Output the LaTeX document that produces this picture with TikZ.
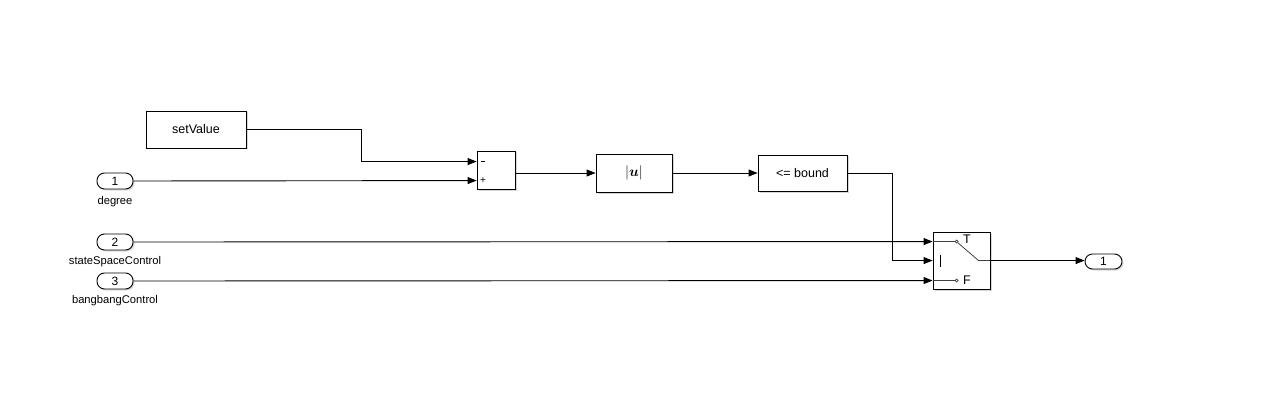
\documentclass[tikz,border=0pt]{standalone}
\usepackage{fontspec}
\setmainfont{Liberation Sans}
\usepackage{amsmath,bm}
\usetikzlibrary{arrows.meta,shadows,calc}
\begin{document}
\begin{tikzpicture}[x=1pt,y=-1pt,
  every node/.style={font=\fontsize{11.2}{13}\selectfont},
  blk/.style={draw,line width=0.9pt,fill=white,inner sep=0pt,
    drop shadow={opacity=0.3,shadow xshift=1.5pt,shadow yshift=-1.5pt}},
  btxt/.style={font=\fontsize{12.5}{14}\selectfont},
  port/.style={blk,font=\fontsize{12}{13}\selectfont,rounded corners=7.5pt,minimum width=36pt,minimum height=16pt},
  wire/.style={line width=0.9pt},
  arr/.style={wire,-{Triangle[length=9pt,width=7pt]}},
  lbl/.style={inner sep=0pt}]
\fill[white] (0,0) rectangle (1281,414);
\useasboundingbox (0,0) rectangle (1281,414);
% blocks
\node[blk,btxt,minimum width=100pt,minimum height=37pt] (setv) at (196,129.5) {setValue};
\node[port] (in1) at (115,181) {1};
\node[port] (in2) at (115,242) {2};
\node[port] (in3) at (115,281) {3};
\node[lbl] (l1) at (115,201.5) {degree};
\node[lbl] (l2) at (115,262) {stateSpaceControl};
\node[lbl] (l3) at (115,300.5) {bangbangControl};
\node[blk,minimum width=38pt,minimum height=38pt] (sum) at (496,170) {};
\node[blk,minimum width=76pt,minimum height=38pt] (abs) at (634,173) {\fontsize{14}{15}\selectfont$\lvert\bm{u}\rvert$};
\node[blk,btxt,minimum width=89pt,minimum height=36pt] (bound) at (802.5,173) {<= bound};
\node[blk,minimum width=57pt,minimum height=57pt] (sw) at (961.5,260.5) {};
\node[port,minimum width=37pt,minimum height=15pt] (out1) at (1103.5,261.5) {1};
% sum signs
\coordinate (sm) at ($(sum.north west)+(0,11)$);
\coordinate (sp) at ($(sum.north west)+(0,30)$);
\draw[line width=0.8pt] ($(sm)+(4,0)$) -- ($(sm)+(8.5,0)$);
\node[lbl,font=\fontsize{10}{11}\selectfont] (spt) at ($(sp)+(6.5,0)$) {+};
% switch internals
\coordinate (swt) at ($(sw.north west)+(0,10)$);
\coordinate (swc) at ($(sw.north west)+(0,29)$);
\coordinate (swf) at ($(sw.north west)+(0,49)$);
\coordinate (swtc) at ($(swt)+(24,0)$);
\coordinate (swfc) at ($(swf)+(24,0)$);
\coordinate (swm) at ($(swc)+(46,0)$);
\draw[line width=0.8pt,black!75] (swt) -- ($(swtc)+(-1.5,0)$);
\draw[line width=0.8pt,black!75] (swf) -- ($(swfc)+(-1.5,0)$);
\draw[line width=0.7pt,black!75] (swtc) circle (1.5pt);
\draw[line width=0.7pt,black!75] (swfc) circle (1.5pt);
\draw[line width=0.8pt,black!75] ($(swtc)+(1,1)$) -- (swm) -- (swc -| sw.east);
\draw[line width=0.9pt] ($(swc)+(8,-6)$) -- ($(swc)+(8,6)$);
\node[lbl,btxt] (tl) at ($(swtc)+(10.5,-2)$) {T};
\node[lbl,btxt] (fl) at ($(swfc)+(10.5,0)$) {F};
% wires
\draw[arr] (setv.east) -- ++(115,0) |- (sm);
\draw[arr] (in1.east) -- (sp);
\draw[arr] (sum.east |- abs.west) -- (abs.west);
\draw[arr] (abs.east) -- (bound.west);
\draw[arr] (bound.east) -- ++(44.5,0) |- (swc);
\draw[arr] (in2.east) -- (swt);
\draw[arr] (in3.east) -- (swf);
\draw[arr] (swc -| sw.east) -- (swc -| out1.west);
\end{tikzpicture}
\end{document}
